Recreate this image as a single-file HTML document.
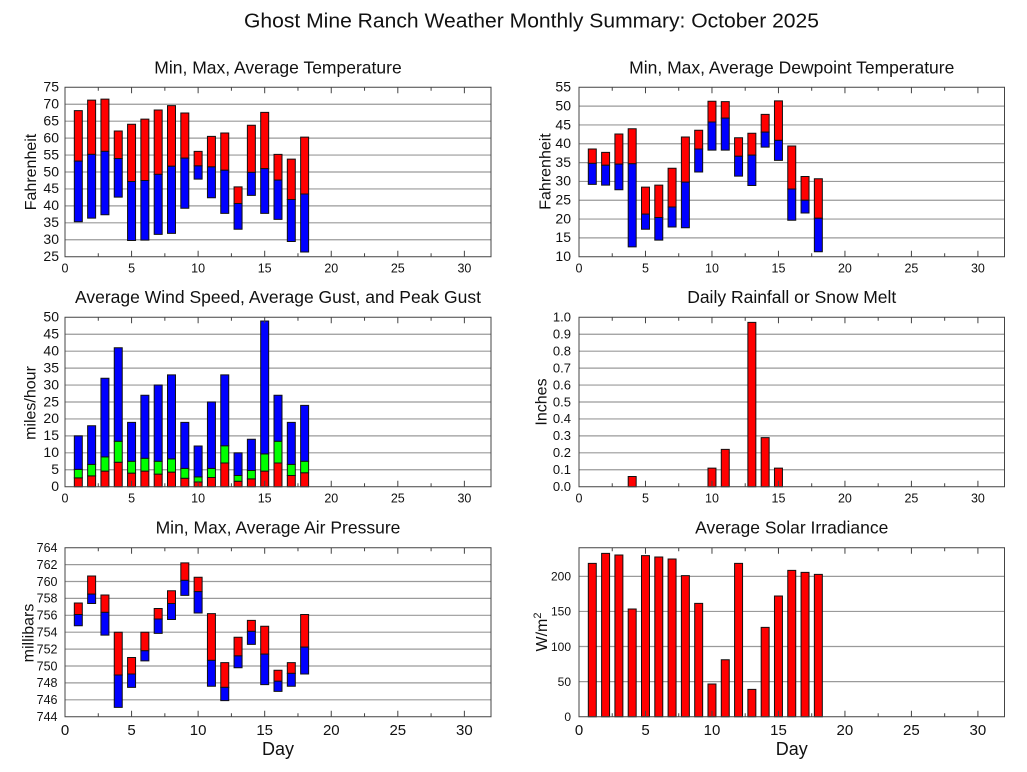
<!DOCTYPE html>
<html><head><meta charset="utf-8"><style>
html,body{margin:0;padding:0;background:#fff;}
svg{display:block;font-family:"Liberation Sans",Arial,sans-serif;}
svg path,svg rect{vector-effect:non-scaling-stroke;}
.g{stroke:#9a9a9a;stroke-width:1.2;fill:none;}
.r{fill:#ff0000;stroke:#111;stroke-width:1;}
.b{fill:#0000ff;stroke:#111;stroke-width:1;}
.n{fill:#00ff00;stroke:#111;stroke-width:1;}
.bd{fill:none;stroke:#444;stroke-width:1;}
.tk{fill:none;stroke:#444;stroke-width:1;}
.yl{font-size:14px;text-anchor:end;fill:#111;}
.xl{font-size:12.5px;text-anchor:middle;fill:#111;}
.xb{font-size:15px;text-anchor:middle;fill:#111;}
.pt{font-size:17.5px;text-anchor:middle;fill:#111;}
.al{font-size:16px;text-anchor:middle;fill:#111;}
</style></head><body>
<svg width="1027" height="772" viewBox="0 0 1027 772" xmlns="http://www.w3.org/2000/svg">
<defs>
<path id="tk1" class="tk" d="M2.5,0v-3.5M5,0v-6M7.5,0v-3.5M10,0v-6M12.5,0v-3.5M15,0v-6M17.5,0v-3.5M20,0v-6M22.5,0v-3.5M25,0v-6M27.5,0v-3.5M30,0v-6M2.5,-169.4v3.5M5,-169.4v6M7.5,-169.4v3.5M10,-169.4v6M12.5,-169.4v3.5M15,-169.4v6M17.5,-169.4v3.5M20,-169.4v6M22.5,-169.4v3.5M25,-169.4v6M27.5,-169.4v3.5M30,-169.4v6"/>
<path id="tk3" class="tk" d="M2.5,0v-3.5M5,0v-6M7.5,0v-3.5M10,0v-6M12.5,0v-3.5M15,0v-6M17.5,0v-3.5M20,0v-6M22.5,0v-3.5M25,0v-6M27.5,0v-3.5M30,0v-6M2.5,-169v3.5M5,-169v6M7.5,-169v3.5M10,-169v6M12.5,-169v3.5M15,-169v6M17.5,-169v3.5M20,-169v6M22.5,-169v3.5M25,-169v6M27.5,-169v3.5M30,-169v6"/>
</defs>
<rect x="0" y="0" width="1027" height="772" fill="#fff"/>

<text x="531.5" y="27.3" font-size="20.5" text-anchor="middle" textLength="575" lengthAdjust="spacingAndGlyphs" fill="#111">Ghost Mine Ranch Weather Monthly Summary: October 2025</text>

<!-- Panel 1: Temperature -->
<text class="pt" x="278" y="73.3">Min, Max, Average Temperature</text>
<g transform="translate(65,256.7) scale(13.3125,-3.388) translate(0,-25)">
<path class="g" d="M0,30H32M0,35H32M0,40H32M0,45H32M0,50H32M0,55H32M0,60H32M0,65H32M0,70H32"/>
<rect class="r" x="0.7" y="53.2" width="0.6" height="14.9"/><rect class="b" x="0.7" y="35.3" width="0.6" height="17.9"/>
<rect class="r" x="1.7" y="55.2" width="0.6" height="16.0"/><rect class="b" x="1.7" y="36.4" width="0.6" height="18.8"/>
<rect class="r" x="2.7" y="56.1" width="0.6" height="15.4"/><rect class="b" x="2.7" y="37.4" width="0.6" height="18.7"/>
<rect class="r" x="3.7" y="54.0" width="0.6" height="8.1"/><rect class="b" x="3.7" y="42.6" width="0.6" height="11.4"/>
<rect class="r" x="4.7" y="47.2" width="0.6" height="16.9"/><rect class="b" x="4.7" y="29.8" width="0.6" height="17.4"/>
<rect class="r" x="5.7" y="47.5" width="0.6" height="18.1"/><rect class="b" x="5.7" y="29.9" width="0.6" height="17.6"/>
<rect class="r" x="6.7" y="49.3" width="0.6" height="19.0"/><rect class="b" x="6.7" y="31.6" width="0.6" height="17.7"/>
<rect class="r" x="7.7" y="51.7" width="0.6" height="17.9"/><rect class="b" x="7.7" y="31.9" width="0.6" height="19.8"/>
<rect class="r" x="8.7" y="54.1" width="0.6" height="13.3"/><rect class="b" x="8.7" y="39.3" width="0.6" height="14.8"/>
<rect class="r" x="9.7" y="51.8" width="0.6" height="4.3"/><rect class="b" x="9.7" y="47.9" width="0.6" height="3.9"/>
<rect class="r" x="10.7" y="51.5" width="0.6" height="9.0"/><rect class="b" x="10.7" y="42.4" width="0.6" height="9.1"/>
<rect class="r" x="11.7" y="50.5" width="0.6" height="11.0"/><rect class="b" x="11.7" y="37.8" width="0.6" height="12.7"/>
<rect class="r" x="12.7" y="40.7" width="0.6" height="4.9"/><rect class="b" x="12.7" y="33.1" width="0.6" height="7.6"/>
<rect class="r" x="13.7" y="49.9" width="0.6" height="13.9"/><rect class="b" x="13.7" y="43.1" width="0.6" height="6.8"/>
<rect class="r" x="14.7" y="51.0" width="0.6" height="16.6"/><rect class="b" x="14.7" y="37.8" width="0.6" height="13.2"/>
<rect class="r" x="15.7" y="47.6" width="0.6" height="7.6"/><rect class="b" x="15.7" y="36.0" width="0.6" height="11.6"/>
<rect class="r" x="16.7" y="41.9" width="0.6" height="11.9"/><rect class="b" x="16.7" y="29.5" width="0.6" height="12.4"/>
<rect class="r" x="17.7" y="43.5" width="0.6" height="16.8"/><rect class="b" x="17.7" y="26.4" width="0.6" height="17.1"/>
</g>
<use href="#tk1" transform="translate(65,256.7) scale(13.3125,1)"/>
<rect class="bd" x="65" y="87.3" width="426" height="169.4"/>
<text class="yl" x="59" y="261.0">25</text><text class="yl" x="59" y="244.1">30</text><text class="yl" x="59" y="227.1">35</text><text class="yl" x="59" y="210.2">40</text><text class="yl" x="59" y="193.2">45</text><text class="yl" x="59" y="176.3">50</text><text class="yl" x="59" y="159.4">55</text><text class="yl" x="59" y="142.4">60</text><text class="yl" x="59" y="125.5">65</text><text class="yl" x="59" y="108.5">70</text><text class="yl" x="59" y="91.6">75</text>
<text class="xl" x="65" y="272.5">0</text><text class="xl" x="131.6" y="272.5">5</text><text class="xl" x="198.1" y="272.5">10</text><text class="xl" x="264.7" y="272.5">15</text><text class="xl" x="331.3" y="272.5">20</text><text class="xl" x="397.8" y="272.5">25</text><text class="xl" x="464.4" y="272.5">30</text>
<text class="al" transform="translate(36,172) rotate(-90)">Fahrenheit</text>

<!-- Panel 2: Dewpoint -->
<text class="pt" x="791.75" y="73.3">Min, Max, Average Dewpoint Temperature</text>
<g transform="translate(579,256.7) scale(13.297,-3.764) translate(0,-10)">
<path class="g" d="M0,15H32M0,20H32M0,25H32M0,30H32M0,35H32M0,40H32M0,45H32M0,50H32"/>
<rect class="r" x="0.7" y="34.8" width="0.6" height="3.8"/><rect class="b" x="0.7" y="29.2" width="0.6" height="5.6"/>
<rect class="r" x="1.7" y="34.3" width="0.6" height="3.4"/><rect class="b" x="1.7" y="29.0" width="0.6" height="5.3"/>
<rect class="r" x="2.7" y="34.6" width="0.6" height="8.0"/><rect class="b" x="2.7" y="27.8" width="0.6" height="6.8"/>
<rect class="r" x="3.7" y="34.7" width="0.6" height="9.3"/><rect class="b" x="3.7" y="12.6" width="0.6" height="22.1"/>
<rect class="r" x="4.7" y="21.3" width="0.6" height="7.2"/><rect class="b" x="4.7" y="17.3" width="0.6" height="4.0"/>
<rect class="r" x="5.7" y="20.4" width="0.6" height="8.6"/><rect class="b" x="5.7" y="14.4" width="0.6" height="6.0"/>
<rect class="r" x="6.7" y="23.2" width="0.6" height="10.3"/><rect class="b" x="6.7" y="17.9" width="0.6" height="5.3"/>
<rect class="r" x="7.7" y="29.8" width="0.6" height="12.0"/><rect class="b" x="7.7" y="17.7" width="0.6" height="12.1"/>
<rect class="r" x="8.7" y="38.6" width="0.6" height="5.0"/><rect class="b" x="8.7" y="32.5" width="0.6" height="6.1"/>
<rect class="r" x="9.7" y="45.8" width="0.6" height="5.5"/><rect class="b" x="9.7" y="38.3" width="0.6" height="7.5"/>
<rect class="r" x="10.7" y="46.8" width="0.6" height="4.4"/><rect class="b" x="10.7" y="38.3" width="0.6" height="8.5"/>
<rect class="r" x="11.7" y="36.7" width="0.6" height="4.9"/><rect class="b" x="11.7" y="31.4" width="0.6" height="5.3"/>
<rect class="r" x="12.7" y="37.0" width="0.6" height="5.8"/><rect class="b" x="12.7" y="28.9" width="0.6" height="8.1"/>
<rect class="r" x="13.7" y="43.1" width="0.6" height="4.7"/><rect class="b" x="13.7" y="39.1" width="0.6" height="4.0"/>
<rect class="r" x="14.7" y="40.9" width="0.6" height="10.5"/><rect class="b" x="14.7" y="35.6" width="0.6" height="5.3"/>
<rect class="r" x="15.7" y="28.0" width="0.6" height="11.4"/><rect class="b" x="15.7" y="19.7" width="0.6" height="8.3"/>
<rect class="r" x="16.7" y="25.0" width="0.6" height="6.3"/><rect class="b" x="16.7" y="21.6" width="0.6" height="3.4"/>
<rect class="r" x="17.7" y="20.2" width="0.6" height="10.5"/><rect class="b" x="17.7" y="11.3" width="0.6" height="8.9"/>
</g>
<use href="#tk1" transform="translate(579,256.7) scale(13.297,1)"/>
<rect class="bd" x="579" y="87.3" width="425.5" height="169.4"/>
<text class="yl" x="571" y="261.0">10</text><text class="yl" x="571" y="242.2">15</text><text class="yl" x="571" y="223.4">20</text><text class="yl" x="571" y="204.5">25</text><text class="yl" x="571" y="185.7">30</text><text class="yl" x="571" y="166.9">35</text><text class="yl" x="571" y="148.1">40</text><text class="yl" x="571" y="129.3">45</text><text class="yl" x="571" y="110.4">50</text><text class="yl" x="571" y="91.6">55</text>
<text class="xl" x="579" y="272.5">0</text><text class="xl" x="645.5" y="272.5">5</text><text class="xl" x="712" y="272.5">10</text><text class="xl" x="778.5" y="272.5">15</text><text class="xl" x="844.9" y="272.5">20</text><text class="xl" x="911.4" y="272.5">25</text><text class="xl" x="977.9" y="272.5">30</text>
<text class="al" transform="translate(550.5,171.5) rotate(-90)">Fahrenheit</text>

<!-- Panel 3: Wind -->
<text class="pt" x="278" y="303">Average Wind Speed, Average Gust, and Peak Gust</text>
<g transform="translate(65,486.7) scale(13.3125,-3.388)">
<path class="g" d="M0,5H32M0,10H32M0,15H32M0,20H32M0,25H32M0,30H32M0,35H32M0,40H32M0,45H32"/>
<rect class="r" x="0.7" y="0" width="0.6" height="2.6"/><rect class="n" x="0.7" y="2.6" width="0.6" height="2.5"/><rect class="b" x="0.7" y="5.1" width="0.6" height="9.9"/>
<rect class="r" x="1.7" y="0" width="0.6" height="3.2"/><rect class="n" x="1.7" y="3.2" width="0.6" height="3.4"/><rect class="b" x="1.7" y="6.6" width="0.6" height="11.4"/>
<rect class="r" x="2.7" y="0" width="0.6" height="4.6"/><rect class="n" x="2.7" y="4.6" width="0.6" height="4.2"/><rect class="b" x="2.7" y="8.8" width="0.6" height="23.2"/>
<rect class="r" x="3.7" y="0" width="0.6" height="7.2"/><rect class="n" x="3.7" y="7.2" width="0.6" height="6.2"/><rect class="b" x="3.7" y="13.4" width="0.6" height="27.6"/>
<rect class="r" x="4.7" y="0" width="0.6" height="4.0"/><rect class="n" x="4.7" y="4.0" width="0.6" height="3.5"/><rect class="b" x="4.7" y="7.5" width="0.6" height="11.5"/>
<rect class="r" x="5.7" y="0" width="0.6" height="4.6"/><rect class="n" x="5.7" y="4.6" width="0.6" height="3.8"/><rect class="b" x="5.7" y="8.4" width="0.6" height="18.6"/>
<rect class="r" x="6.7" y="0" width="0.6" height="3.7"/><rect class="n" x="6.7" y="3.7" width="0.6" height="3.8"/><rect class="b" x="6.7" y="7.5" width="0.6" height="22.5"/>
<rect class="r" x="7.7" y="0" width="0.6" height="4.3"/><rect class="n" x="7.7" y="4.3" width="0.6" height="3.9"/><rect class="b" x="7.7" y="8.2" width="0.6" height="24.8"/>
<rect class="r" x="8.7" y="0" width="0.6" height="2.5"/><rect class="n" x="8.7" y="2.5" width="0.6" height="2.9"/><rect class="b" x="8.7" y="5.4" width="0.6" height="13.6"/>
<rect class="r" x="9.7" y="0" width="0.6" height="1.4"/><rect class="n" x="9.7" y="1.4" width="0.6" height="1.5"/><rect class="b" x="9.7" y="2.9" width="0.6" height="9.1"/>
<rect class="r" x="10.7" y="0" width="0.6" height="2.7"/><rect class="n" x="10.7" y="2.7" width="0.6" height="2.7"/><rect class="b" x="10.7" y="5.4" width="0.6" height="19.6"/>
<rect class="r" x="11.7" y="0" width="0.6" height="7.0"/><rect class="n" x="11.7" y="7.0" width="0.6" height="5.1"/><rect class="b" x="11.7" y="12.1" width="0.6" height="20.9"/>
<rect class="r" x="12.7" y="0" width="0.6" height="1.6"/><rect class="n" x="12.7" y="1.6" width="0.6" height="1.7"/><rect class="b" x="12.7" y="3.3" width="0.6" height="6.7"/>
<rect class="r" x="13.7" y="0" width="0.6" height="2.3"/><rect class="n" x="13.7" y="2.3" width="0.6" height="2.5"/><rect class="b" x="13.7" y="4.8" width="0.6" height="9.2"/>
<rect class="r" x="14.7" y="0" width="0.6" height="4.6"/><rect class="n" x="14.7" y="4.6" width="0.6" height="5.1"/><rect class="b" x="14.7" y="9.7" width="0.6" height="39.2"/>
<rect class="r" x="15.7" y="0" width="0.6" height="7.0"/><rect class="n" x="15.7" y="7.0" width="0.6" height="6.4"/><rect class="b" x="15.7" y="13.4" width="0.6" height="13.6"/>
<rect class="r" x="16.7" y="0" width="0.6" height="3.3"/><rect class="n" x="16.7" y="3.3" width="0.6" height="3.3"/><rect class="b" x="16.7" y="6.6" width="0.6" height="12.4"/>
<rect class="r" x="17.7" y="0" width="0.6" height="4.1"/><rect class="n" x="17.7" y="4.1" width="0.6" height="3.4"/><rect class="b" x="17.7" y="7.5" width="0.6" height="16.5"/>
</g>
<use href="#tk1" transform="translate(65,486.7) scale(13.3125,1)"/>
<rect class="bd" x="65" y="317.3" width="426" height="169.4"/>
<text class="yl" x="59" y="491.0">0</text><text class="yl" x="59" y="474.1">5</text><text class="yl" x="59" y="457.1">10</text><text class="yl" x="59" y="440.2">15</text><text class="yl" x="59" y="423.2">20</text><text class="yl" x="59" y="406.3">25</text><text class="yl" x="59" y="389.4">30</text><text class="yl" x="59" y="372.4">35</text><text class="yl" x="59" y="355.5">40</text><text class="yl" x="59" y="338.5">45</text><text class="yl" x="59" y="321.6">50</text>
<text class="xl" x="65" y="502.5">0</text><text class="xl" x="131.6" y="502.5">5</text><text class="xl" x="198.1" y="502.5">10</text><text class="xl" x="264.7" y="502.5">15</text><text class="xl" x="331.3" y="502.5">20</text><text class="xl" x="397.8" y="502.5">25</text><text class="xl" x="464.4" y="502.5">30</text>
<text class="al" transform="translate(35.5,403) rotate(-90)">miles/hour</text>

<!-- Panel 4: Rain -->
<text class="pt" x="791.75" y="303">Daily Rainfall or Snow Melt</text>
<g transform="translate(579,486.7) scale(13.297,-169.4)">
<path class="g" d="M0,0.1H32M0,0.2H32M0,0.3H32M0,0.4H32M0,0.5H32M0,0.6H32M0,0.7H32M0,0.8H32M0,0.9H32"/>
<rect class="r" x="3.7" y="0" width="0.6" height="0.06"/>
<rect class="r" x="9.7" y="0" width="0.6" height="0.11"/>
<rect class="r" x="10.7" y="0" width="0.6" height="0.22"/>
<rect class="r" x="12.7" y="0" width="0.6" height="0.97"/>
<rect class="r" x="13.7" y="0" width="0.6" height="0.29"/>
<rect class="r" x="14.7" y="0" width="0.6" height="0.11"/>
</g>
<use href="#tk1" transform="translate(579,486.7) scale(13.297,1)"/>
<rect class="bd" x="579" y="317.3" width="425.5" height="169.4"/>
<g style="font-size:13px">
<text class="yl" style="font-size:13px" x="571" y="491.0">0.0</text><text class="yl" style="font-size:13px" x="571" y="474.1">0.1</text><text class="yl" style="font-size:13px" x="571" y="457.1">0.2</text><text class="yl" style="font-size:13px" x="571" y="440.2">0.3</text><text class="yl" style="font-size:13px" x="571" y="423.2">0.4</text><text class="yl" style="font-size:13px" x="571" y="406.3">0.5</text><text class="yl" style="font-size:13px" x="571" y="389.4">0.6</text><text class="yl" style="font-size:13px" x="571" y="372.4">0.7</text><text class="yl" style="font-size:13px" x="571" y="355.5">0.8</text><text class="yl" style="font-size:13px" x="571" y="338.5">0.9</text><text class="yl" style="font-size:13px" x="571" y="321.6">1.0</text>
</g>
<text class="xl" x="579" y="502.5">0</text><text class="xl" x="645.5" y="502.5">5</text><text class="xl" x="712" y="502.5">10</text><text class="xl" x="778.5" y="502.5">15</text><text class="xl" x="844.9" y="502.5">20</text><text class="xl" x="911.4" y="502.5">25</text><text class="xl" x="977.9" y="502.5">30</text>
<text class="al" transform="translate(546.5,402) rotate(-90)">Inches</text>

<!-- Panel 5: Pressure -->
<text class="pt" x="278" y="533.3">Min, Max, Average Air Pressure</text>
<g transform="translate(65,716.7) scale(13.3125,-8.45) translate(0,-744)">
<path class="g" d="M0,746H32M0,748H32M0,750H32M0,752H32M0,754H32M0,756H32M0,758H32M0,760H32M0,762H32"/>
<rect class="r" x="0.7" y="756.1" width="0.6" height="1.35"/><rect class="b" x="0.7" y="754.77" width="0.6" height="1.33"/>
<rect class="r" x="1.7" y="758.5" width="0.6" height="2.15"/><rect class="b" x="1.7" y="757.4" width="0.6" height="1.1"/>
<rect class="r" x="2.7" y="756.35" width="0.6" height="2.05"/><rect class="b" x="2.7" y="753.66" width="0.6" height="2.69"/>
<rect class="r" x="3.7" y="748.93" width="0.6" height="5.07"/><rect class="b" x="3.7" y="745.1" width="0.6" height="3.83"/>
<rect class="r" x="4.7" y="749.05" width="0.6" height="1.95"/><rect class="b" x="4.7" y="747.47" width="0.6" height="1.58"/>
<rect class="r" x="5.7" y="751.8" width="0.6" height="2.2"/><rect class="b" x="5.7" y="750.6" width="0.6" height="1.2"/>
<rect class="r" x="6.7" y="755.56" width="0.6" height="1.24"/><rect class="b" x="6.7" y="753.86" width="0.6" height="1.7"/>
<rect class="r" x="7.7" y="757.4" width="0.6" height="1.5"/><rect class="b" x="7.7" y="755.5" width="0.6" height="1.9"/>
<rect class="r" x="8.7" y="760.13" width="0.6" height="2.07"/><rect class="b" x="8.7" y="758.36" width="0.6" height="1.77"/>
<rect class="r" x="9.7" y="758.8" width="0.6" height="1.7"/><rect class="b" x="9.7" y="756.27" width="0.6" height="2.53"/>
<rect class="r" x="10.7" y="750.67" width="0.6" height="5.53"/><rect class="b" x="10.7" y="747.6" width="0.6" height="3.07"/>
<rect class="r" x="11.7" y="747.47" width="0.6" height="2.93"/><rect class="b" x="11.7" y="745.9" width="0.6" height="1.57"/>
<rect class="r" x="12.7" y="751.2" width="0.6" height="2.2"/><rect class="b" x="12.7" y="749.8" width="0.6" height="1.4"/>
<rect class="r" x="13.7" y="754.1" width="0.6" height="1.3"/><rect class="b" x="13.7" y="752.56" width="0.6" height="1.54"/>
<rect class="r" x="14.7" y="751.4" width="0.6" height="3.3"/><rect class="b" x="14.7" y="747.8" width="0.6" height="3.6"/>
<rect class="r" x="15.7" y="748.2" width="0.6" height="1.3"/><rect class="b" x="15.7" y="747.0" width="0.6" height="1.2"/>
<rect class="r" x="16.7" y="749.13" width="0.6" height="1.27"/><rect class="b" x="16.7" y="747.6" width="0.6" height="1.53"/>
<rect class="r" x="17.7" y="752.24" width="0.6" height="3.86"/><rect class="b" x="17.7" y="749.05" width="0.6" height="3.19"/>
</g>
<use href="#tk3" transform="translate(65,716.7) scale(13.3125,1)"/>
<rect class="bd" x="65" y="547.7" width="426" height="169"/>
<text class="yl" style="font-size:12.5px" x="57.5" y="721.0">744</text><text class="yl" style="font-size:12.5px" x="57.5" y="704.1">746</text><text class="yl" style="font-size:12.5px" x="57.5" y="687.2">748</text><text class="yl" style="font-size:12.5px" x="57.5" y="670.3">750</text><text class="yl" style="font-size:12.5px" x="57.5" y="653.4">752</text><text class="yl" style="font-size:12.5px" x="57.5" y="636.5">754</text><text class="yl" style="font-size:12.5px" x="57.5" y="619.6">756</text><text class="yl" style="font-size:12.5px" x="57.5" y="602.7">758</text><text class="yl" style="font-size:12.5px" x="57.5" y="585.8">760</text><text class="yl" style="font-size:12.5px" x="57.5" y="568.9">762</text><text class="yl" style="font-size:12.5px" x="57.5" y="552.0">764</text>
<text class="xb" x="65" y="735">0</text><text class="xb" x="131.6" y="735">5</text><text class="xb" x="198.1" y="735">10</text><text class="xb" x="264.7" y="735">15</text><text class="xb" x="331.3" y="735">20</text><text class="xb" x="397.8" y="735">25</text><text class="xb" x="464.4" y="735">30</text>
<text class="al" transform="translate(33.3,633) rotate(-90)">millibars</text>
<text x="278" y="755" font-size="18" text-anchor="middle" fill="#111">Day</text>

<!-- Panel 6: Solar -->
<text class="pt" x="791.75" y="533.3">Average Solar Irradiance</text>
<g transform="translate(579,716.7) scale(13.297,-0.7017)">
<path class="g" d="M0,50H32M0,100H32M0,150H32M0,200H32"/>
<rect class="r" x="0.7" y="0" width="0.6" height="218.5"/>
<rect class="r" x="1.7" y="0" width="0.6" height="232.8"/>
<rect class="r" x="2.7" y="0" width="0.6" height="230.4"/>
<rect class="r" x="3.7" y="0" width="0.6" height="153.4"/>
<rect class="r" x="4.7" y="0" width="0.6" height="229.5"/>
<rect class="r" x="5.7" y="0" width="0.6" height="227.6"/>
<rect class="r" x="6.7" y="0" width="0.6" height="224.7"/>
<rect class="r" x="7.7" y="0" width="0.6" height="201"/>
<rect class="r" x="8.7" y="0" width="0.6" height="161.5"/>
<rect class="r" x="9.7" y="0" width="0.6" height="46.6"/>
<rect class="r" x="10.7" y="0" width="0.6" height="81.2"/>
<rect class="r" x="11.7" y="0" width="0.6" height="218.5"/>
<rect class="r" x="12.7" y="0" width="0.6" height="39"/>
<rect class="r" x="13.7" y="0" width="0.6" height="127.3"/>
<rect class="r" x="14.7" y="0" width="0.6" height="172"/>
<rect class="r" x="15.7" y="0" width="0.6" height="208.6"/>
<rect class="r" x="16.7" y="0" width="0.6" height="205.7"/>
<rect class="r" x="17.7" y="0" width="0.6" height="202.9"/>
</g>
<use href="#tk3" transform="translate(579,716.7) scale(13.297,1)"/>
<rect class="bd" x="579" y="547.7" width="425.5" height="169"/>
<text class="yl" style="font-size:12px" x="571" y="721.0">0</text><text class="yl" style="font-size:12px" x="571" y="685.9">50</text><text class="yl" style="font-size:12px" x="571" y="650.8">100</text><text class="yl" style="font-size:12px" x="571" y="615.7">150</text><text class="yl" style="font-size:12px" x="571" y="580.7">200</text>
<text class="xb" x="579" y="735">0</text><text class="xb" x="645.5" y="735">5</text><text class="xb" x="712" y="735">10</text><text class="xb" x="778.5" y="735">15</text><text class="xb" x="844.9" y="735">20</text><text class="xb" x="911.4" y="735">25</text><text class="xb" x="977.9" y="735">30</text>
<text class="al" transform="translate(547,632) rotate(-90)">W/m<tspan dy="-6" font-size="11">2</tspan></text>
<text x="791.75" y="755" font-size="18" text-anchor="middle" fill="#111">Day</text>
</svg>
</body></html>
